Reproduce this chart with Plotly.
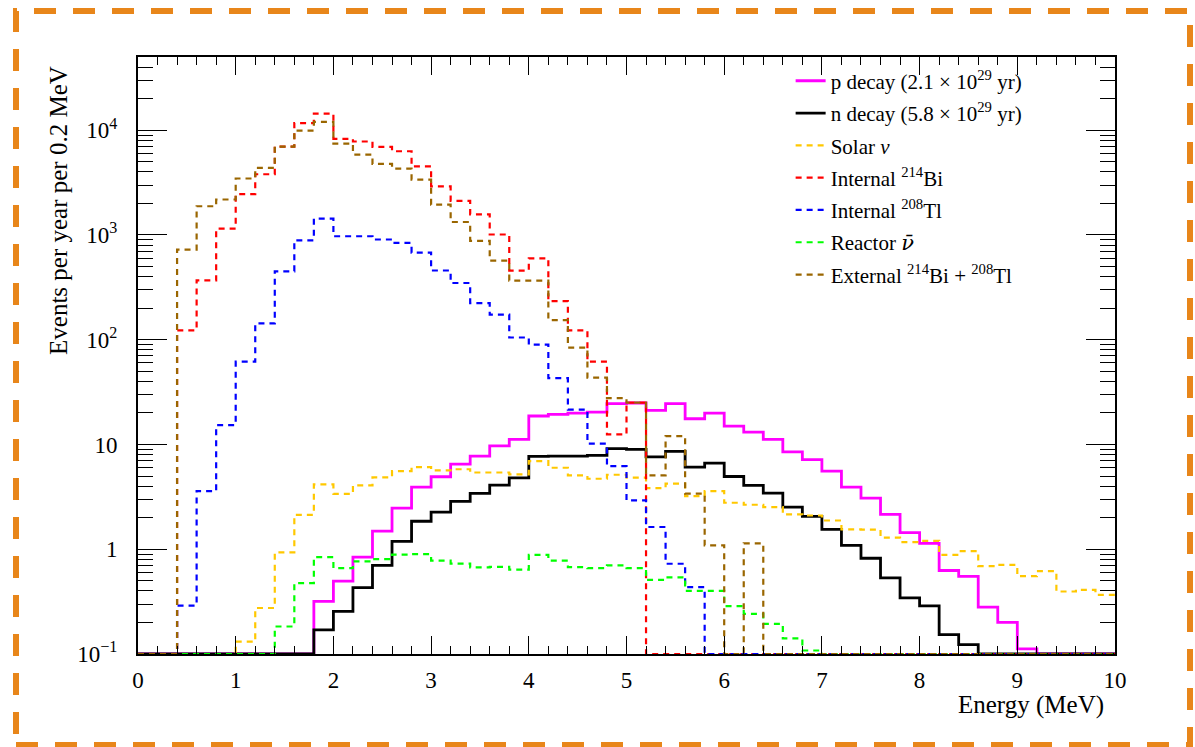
import math
import plotly.graph_objects as go

# ---------------- data (events per year per 0.2 MeV) ----------------
bin_width = 0.2
n_bins = 50
energy_edges = [round(i * bin_width, 1) for i in range(n_bins + 1)]  # MeV

p_decay = [0, 0, 0, 0, 0, 0, 0, 0, 0, 0.318,
           0.497, 0.84, 1.49, 2.47, 3.92, 4.92, 6.5, 7.75, 9.7, 11.2,
           18.7, 19.4, 19.9, 20.4, 24.6, 24.9, 21.2, 24.6, 17.6, 19.9,
           15.0, 13.1, 11.2, 8.5, 7.16, 5.57, 3.92, 3.07, 2.15, 1.44,
           1.14, 0.627, 0.55, 0.28, 0.20, 0.112, 0, 0, 0, 0]

n_decay = [0, 0, 0, 0, 0, 0, 0, 0, 0, 0.17,
           0.255, 0.43, 0.70, 1.19, 1.85, 2.26, 2.87, 3.42, 4.1, 4.8,
           7.7, 7.75, 7.75, 7.87, 9.12, 9.0, 7.6, 8.6, 6.08, 6.64,
           4.95, 4.07, 3.43, 2.52, 2.06, 1.55, 1.09, 0.82, 0.534, 0.344,
           0.288, 0.153, 0.123, 0, 0, 0, 0, 0, 0, 0]

solar_nu = [0, 0, 0, 0, 0, 0.131, 0.275, 0.933, 2.13, 4.16,
            3.37, 4.07, 4.85, 5.57, 6.08, 5.66, 5.8, 5.4, 5.4, 5.18,
            6.93, 6.0, 5.07, 4.71, 5.14, 4.82, 3.84, 4.23, 3.21, 3.59,
            2.78, 2.66, 2.52, 2.15, 2.1, 1.88, 1.55, 1.54, 1.29, 1.17,
            1.2, 0.885, 0.96, 0.69, 0.71, 0.553, 0.618, 0.395, 0.41, 0.367]

internal_bi214 = [0, 0, 123, 369, 1150, 2450, 3800, 6980, 11700, 14400,
                  8270, 7800, 6930, 6300, 4520, 2910, 2120, 1575, 1010, 457,
                  599, 234, 123, 61.7, 12.5, 25.1, 0, 0, 0, 0,
                  0, 0, 0, 0, 0, 0, 0, 0, 0, 0,
                  0, 0, 0, 0, 0, 0, 0, 0, 0, 0]

internal_tl208 = [0, 0, 0.29, 3.59, 15.3, 61.7, 143, 450, 889, 1430,
                  972, 972, 905, 839, 678, 458, 348, 224, 174, 105,
                  89.7, 43, 21.5, 10.2, 6.22, 2.93, 1.63, 0.727, 0.434, 0,
                  0, 0, 0, 0, 0, 0, 0, 0, 0, 0,
                  0, 0, 0, 0, 0, 0, 0, 0, 0, 0]

reactor_nubar = [0, 0, 0, 0, 0, 0, 0, 0.183, 0.475, 0.84,
                 0.66, 0.765, 0.805, 0.89, 0.9, 0.78, 0.73, 0.67, 0.68, 0.64,
                 0.885, 0.78, 0.674, 0.66, 0.70, 0.66, 0.51, 0.54, 0.40, 0.40,
                 0.286, 0.242, 0.194, 0.141, 0.108, 0, 0, 0, 0, 0,
                 0, 0, 0, 0, 0, 0, 0, 0, 0, 0]

external_bi_tl = [0, 0, 726, 1880, 2180, 3460, 4370, 6980, 9930, 12000,
                  7460, 5860, 4770, 4300, 3380, 1945, 1330, 880, 569, 367,
                  367, 154, 84, 43.4, 27.7, 25.1, 5.07, 12.0, 3.39, 1.09,
                  0, 1.14, 0, 0, 0, 0, 0, 0, 0, 0,
                  0, 0, 0, 0, 0, 0, 0, 0, 0, 0]

series_names = [
    "p decay (2.1 × 10<sup>29</sup> yr)",
    "n decay (5.8 × 10<sup>29</sup> yr)",
    "Solar <i>ν</i>",
    "Internal <sup>214</sup>Bi",
    "Internal <sup>208</sup>Tl",
    "Reactor <span style='font-family:DejaVu Serif'><i>ν\u0304</i></span>",
    "External <sup>214</sup>Bi + <sup>208</sup>Tl",
]
series_values = [p_decay, n_decay, solar_nu, internal_bi214,
                 internal_tl208, reactor_nubar, external_bi_tl]

y_major_vals = [0.1, 1, 10, 100, 1000, 10000]
y_major_text = ["10<sup>\u22121</sup>", "1", "10", "10<sup>2</sup>",
                "10<sup>3</sup>", "10<sup>4</sup>"]
x_major_vals = [0, 1, 2, 3, 4, 5, 6, 7, 8, 9, 10]

# ---------------- styles ----------------
colors = ["#FF00FF", "#000000", "#FFC800", "#FF0000", "#0000FF", "#00FF00", "#9A6600"]
dashes = ["solid", "solid", "6px,5px", "6px,5px", "6px,5px", "6px,5px", "6px,5px"]
widths = [2.8, 2.8, 2.2, 2.2, 2.2, 2.2, 2.2]

y_floor = 0.1
y_top = 5e4

fig = go.Figure()
for i, (name, vals) in enumerate(zip(series_names, series_values)):
    yv = [max(v, y_floor) for v in vals] + [max(vals[-1], y_floor)]
    fig.add_trace(go.Scatter(
        x=energy_edges, y=yv, mode="lines", name=name,
        line=dict(shape="hv", color=colors[i], width=widths[i], dash=dashes[i]),
        legendgroup="g%d" % i, hoverinfo="skip",
    ))

y_minor_vals = [k * 10 ** d for d in range(-1, 5) for k in range(2, 10) if k * 10 ** d < y_top]

serif = "Liberation Serif, Times New Roman, serif"

fig.update_layout(
    width=1195, height=747,
    margin=dict(l=138, r=80, t=57, b=93),
    paper_bgcolor="white", plot_bgcolor="white",
    font=dict(family=serif, size=22, color="black"),
    showlegend=True,
    legend=dict(x=0.668, y=0.994, xanchor="left", yanchor="top",
                bgcolor="rgba(0,0,0,0)", borderwidth=0,
                font=dict(family=serif, size=21, color="black"),
                tracegroupgap=2, itemwidth=30),
)

fig.update_xaxes(
    range=[0, 10], showline=True, linecolor="black", linewidth=2,
    mirror="allticks", ticks="inside", ticklen=18, tickwidth=1, tickcolor="black",
    tickmode="array", tickvals=x_major_vals, ticktext=[str(v) for v in x_major_vals],
    minor=dict(ticks="inside", ticklen=8, tickwidth=1, tickcolor="black",
               tickmode="linear", tick0=0, dtick=bin_width, showgrid=False),
    showgrid=False, zeroline=False, tickfont=dict(size=23),
    ticklabelstandoff=4,
)
fig.update_yaxes(
    type="log", range=[math.log10(y_floor), math.log10(y_top)],
    showline=True, linecolor="black", linewidth=2,
    mirror="allticks", ticks="inside", ticklen=29, tickwidth=1, tickcolor="black",
    tickmode="array", tickvals=y_major_vals, ticktext=y_major_text,
    minor=dict(ticks="inside", ticklen=15, tickwidth=1, tickcolor="black",
               tickmode="array", tickvals=y_minor_vals, showgrid=False),
    showgrid=False, zeroline=False, tickfont=dict(size=23),
    ticklabelstandoff=14,
)

# axis titles (ROOT style: aligned to axis end)
fig.add_annotation(text="Energy (MeV)", xref="paper", yref="paper",
                   x=0.991, y=-0.085, xanchor="right", yanchor="middle",
                   showarrow=False, font=dict(family=serif, size=25))
fig.add_annotation(text="Events per year per 0.2 MeV", xref="paper", yref="paper",
                   x=-0.082, y=0.989, xanchor="center", yanchor="top", textangle=-90,
                   showarrow=False, font=dict(family=serif, size=25))

# orange dashed frame around the figure
fig.add_shape(type="rect", xref="paper", yref="paper",
              x0=(16 - 138) / 977, x1=(1190 - 138) / 977,
              y0=(654 - 745) / 597, y1=(654 - 11) / 597,
              line=dict(color="#E8861A", width=6, dash="22px,17px"),
              fillcolor="rgba(0,0,0,0)", layer="below")

fig.write_html("out.html")
